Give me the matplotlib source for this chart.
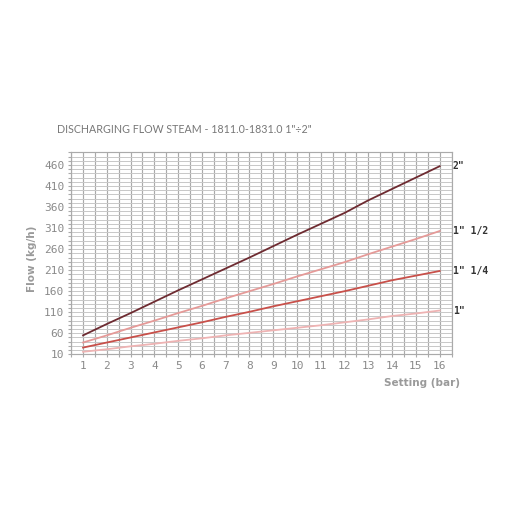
import numpy as np
import matplotlib.pyplot as plt
from matplotlib.ticker import MultipleLocator

# Setting (bar)
setting = [1, 2, 3, 4, 5, 6, 7, 8, 9, 10, 11, 12, 13, 14, 15, 16]

# Flow (kg/h), one list per size
flow_2 = [55, 82, 108, 135, 162, 188, 214, 240, 267, 294, 320, 346, 376, 403, 430, 457]
flow_1_1_2 = [38, 55, 73, 90, 108, 125, 143, 160, 177, 195, 212, 229, 248, 266, 284, 303]
flow_1_1_4 = [26, 38, 50, 62, 74, 86, 99, 111, 124, 136, 148, 160, 173, 186, 197, 208]
flow_1 = [16, 22, 29, 35, 42, 48, 55, 61, 67, 73, 79, 86, 93, 101, 107, 114]

series = [
    ('2"', flow_2, '#6e2b31'),
    ('1" 1/2', flow_1_1_2, '#e59a98'),
    ('1" 1/4', flow_1_1_4, '#c8504a'),
    ('1"', flow_1, '#eeb3b3'),
]

x_ticks = list(range(1, 17))
y_ticks = list(range(10, 461, 50))

fig = plt.figure(figsize=(5.12, 5.12), dpi=100)
ax = fig.add_axes([0.139, 0.308, 0.743, 0.3945])

ax.set_xlim(0.5, 16.5)
ax.set_ylim(10, 490)

# dense grid: vertical every 0.5 bar, horizontal every 10 kg/h
ax.xaxis.set_minor_locator(MultipleLocator(0.5))
ax.yaxis.set_minor_locator(MultipleLocator(10))
ax.grid(True, which='both', axis='x', color='#aaaaaa', linewidth=0.85)
ax.grid(True, which='both', axis='y', color='#c8c8c8', linewidth=0.7)
ax.set_axisbelow(True)

for label, flow, color in series:
    ax.plot(setting, flow, color=color, linewidth=1.3)
    ax.text(16.55, flow[-1], label, color='#333333', fontsize=7,
            fontweight='bold', family='DejaVu Sans Mono', va='center', ha='left')

ax.set_xticks(x_ticks)
ax.set_yticks(y_ticks)
ax.tick_params(axis='both', which='both', colors='#aaaaaa', labelcolor='#8a8a8a',
               labelsize=8, length=2.5, width=0.8, pad=2.5)
for lbl in ax.get_xticklabels() + ax.get_yticklabels():
    lbl.set_family('DejaVu Sans Mono')

for side in ax.spines.values():
    side.set_color('#aaaaaa')
    side.set_linewidth(0.85)

fig.text(0.825, 0.252, 'Setting (bar)', color='#9a9a9a', fontsize=7.5,
         fontweight='bold', ha='center', va='center')
fig.text(0.063, 0.495, 'Flow (kg/h)', color='#9a9a9a', fontsize=7.5,
         fontweight='bold', ha='center', va='center', rotation=90)
fig.text(0.112, 0.748, 'DISCHARGING FLOW STEAM - 1811.0-1831.0 1"\u00f72"',
         color='#777777', fontsize=7.7, ha='left', va='center',
         family=['Lato', 'DejaVu Sans'])

fig.savefig('out.png', dpi=100, facecolor='white')
